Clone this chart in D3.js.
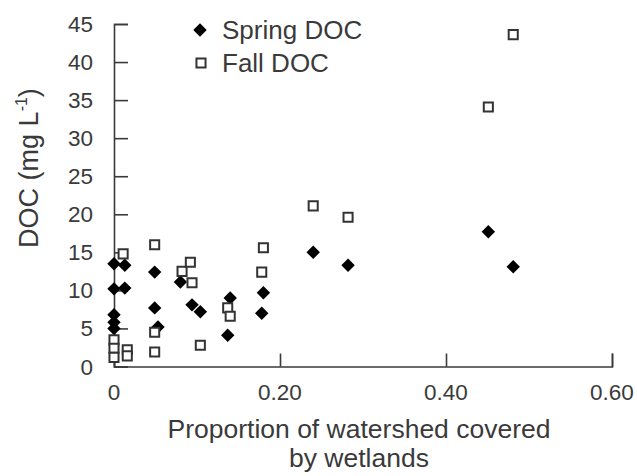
<!DOCTYPE html>
<html>
<head>
<meta charset="utf-8">
<script src="https://cdn.jsdelivr.net/npm/d3@7"></script>
<style>
  html, body { margin: 0; padding: 0; background: #fff; }
  svg { display: block; font-family: Arial, "Liberation Sans", sans-serif; }
</style>
</head>
<body>
<svg id="chart" width="637" height="476"></svg>
<script>
// Proportion of watershed area in wetlands, and DOC (mg/L) per sampling season
const springWetland = [0, 0.013, 0, 0.013, 0, 0, 0, 0.049, 0.049, 0.053, 0.080, 0.094, 0.104, 0.137, 0.140, 0.178, 0.180, 0.240, 0.282, 0.451, 0.481];
const springDOC     = [13.5, 13.3, 10.2, 10.3, 6.8, 5.8, 5.0, 12.4, 7.7, 5.2, 11.1, 8.1, 7.2, 4.1, 9.0, 7.0, 9.7, 15.0, 13.3, 17.7, 13.1];

const fallWetland = [0.011, 0, 0, 0, 0.016, 0.016, 0.049, 0.049, 0.049, 0.082, 0.092, 0.094, 0.104, 0.137, 0.140, 0.178, 0.180, 0.240, 0.282, 0.451, 0.481];
const fallDOC     = [14.8, 3.5, 2.4, 1.2, 2.2, 1.4, 16.0, 4.5, 1.9, 12.5, 13.7, 11.0, 2.8, 7.7, 6.6, 12.4, 15.6, 21.1, 19.6, 34.1, 43.6];

const xTicks = [0, 0.2, 0.4, 0.6];
const xTickLabels = ["0", "0.20", "0.40", "0.60"];
const yTicks = [0, 5, 10, 15, 20, 25, 30, 35, 40, 45];
const seriesNames = ["Spring DOC", "Fall DOC"];

const ink = "#3a3a3a";
const svg = d3.select("#chart");

const x = d3.scaleLinear().domain([0, 0.6]).range([114, 612]);
const y = d3.scaleLinear().domain([0, 45]).range([366.5, 24]);

// Axes: ticks point into the plot area
const xAxis = svg.append("g")
  .attr("transform", `translate(0,${y(0)})`)
  .call(d3.axisTop(x).tickValues(xTicks).tickSize(13).tickFormat(""));
const yAxis = svg.append("g")
  .attr("transform", `translate(${x(0)},0)`)
  .call(d3.axisRight(y).tickValues(yTicks).tickSize(14).tickFormat(""));

[xAxis, yAxis].forEach(g => {
  g.select(".domain").attr("stroke", ink).attr("stroke-width", 1.6);
  g.selectAll(".tick line").attr("stroke", ink).attr("stroke-width", 1.6);
});

// Tick labels
svg.append("g").selectAll("text")
  .data(xTicks)
  .join("text")
  .attr("x", d => x(d))
  .attr("y", 400)
  .attr("text-anchor", "middle")
  .attr("font-size", 22.5)
  .attr("fill", ink)
  .text((d, i) => xTickLabels[i]);

svg.append("g").selectAll("text")
  .data(yTicks)
  .join("text")
  .attr("x", 93)
  .attr("y", d => y(d) + 8)
  .attr("text-anchor", "end")
  .attr("font-size", 22.5)
  .attr("fill", ink)
  .text(d => d);

// Axis titles
const xTitle = svg.append("text")
  .attr("text-anchor", "middle")
  .attr("font-size", 26.5)
  .attr("fill", ink);
xTitle.append("tspan").attr("x", 359).attr("y", 438).text("Proportion of watershed covered");
xTitle.append("tspan").attr("x", 359).attr("y", 467).text("by wetlands");

const yTitle = svg.append("text")
  .attr("transform", "translate(38,168) rotate(-90)")
  .attr("text-anchor", "middle")
  .attr("font-size", 27)
  .attr("fill", ink);
yTitle.append("tspan").text("DOC (mg L");
yTitle.append("tspan").attr("font-size", 16).attr("dy", -11).text("-1");
yTitle.append("tspan").attr("dy", 11).text(")");

// Marker shapes
const diamond = d3.symbol().type(d3.symbolDiamond2).size(115);
const square = d3.symbol().type(d3.symbolSquare2).size(105);

const springData = springWetland.map((w, i) => ({ w, v: springDOC[i] }));
const fallData = fallWetland.map((w, i) => ({ w, v: fallDOC[i] }));

svg.append("g").selectAll("path")
  .data(springData)
  .join("path")
  .attr("d", diamond)
  .attr("transform", d => `translate(${x(d.w)},${y(d.v)})`)
  .attr("fill", "#000");

svg.append("g").selectAll("path")
  .data(fallData)
  .join("path")
  .attr("d", square)
  .attr("transform", d => `translate(${x(d.w)},${y(d.v)})`)
  .attr("fill", "#fff")
  .attr("stroke", "#333")
  .attr("stroke-width", 2);

// Legend
const legend = svg.append("g");
legend.append("path")
  .attr("d", diamond)
  .attr("transform", "translate(200,30)")
  .attr("fill", "#000");
legend.append("path")
  .attr("d", square)
  .attr("transform", "translate(201,63)")
  .attr("fill", "#fff")
  .attr("stroke", "#333")
  .attr("stroke-width", 2);
legend.selectAll("text")
  .data(seriesNames)
  .join("text")
  .attr("x", 222)
  .attr("y", (d, i) => 39 + i * 33)
  .attr("font-size", 26)
  .attr("fill", ink)
  .text(d => d);
</script>
</body>
</html>
